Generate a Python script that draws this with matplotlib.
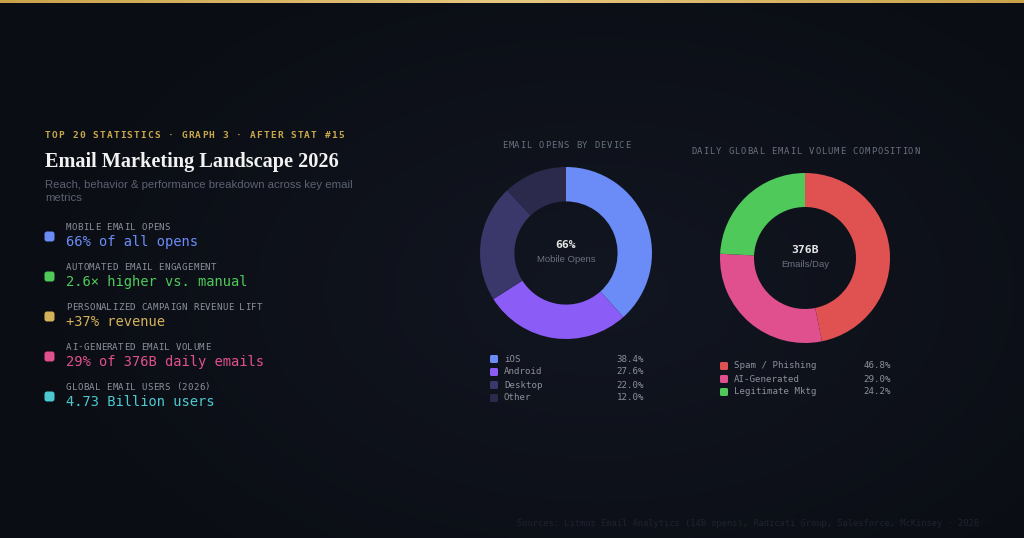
import numpy as np
import matplotlib.pyplot as plt
from matplotlib.patches import FancyBboxPatch

W, H = 1024, 538

# ---- data ----
device_labels = ['iOS', 'Android', 'Desktop', 'Other']
device_share = [38.4, 27.6, 22.0, 12.0]
device_colors = ['#6b8cf7', '#8b5cf6', '#3a376a', '#2b2a4c']

volume_labels = ['Spam / Phishing', 'AI-Generated', 'Legitimate Mktg']
volume_share = [46.8, 29.0, 24.2]
volume_colors = ['#e05252', '#e0508f', '#4ec95a']

stat_labels = ['MOBILE EMAIL OPENS', 'AUTOMATED EMAIL ENGAGEMENT',
               'PERSONALIZED CAMPAIGN REVENUE LIFT', 'AI-GENERATED EMAIL VOLUME',
               'GLOBAL EMAIL USERS (2026)']
stat_values = ['66% of all opens', '2.6× higher vs. manual', '+37% revenue',
               '29% of 376B daily emails', '4.73 Billion users']
stat_colors = ['#6b8cf7', '#4ec95a', '#d4b25a', '#e0508f', '#4cc9d0']

MONO = 'DejaVu Sans Mono'
SANS = 'Liberation Sans'
SERIF = 'Liberation Serif'


def spaced(ax, x, y, s, step, **kw):
    # letter-spaced text, one glyph at a time
    for i, ch in enumerate(s):
        ax.text(x + i * step, y, ch, ha='left', va='center', family=MONO, **kw)


fig = plt.figure(figsize=(W / 100, H / 100), dpi=100)
bg = fig.add_axes([0, 0, 1, 1])
bg.set_xlim(0, W)
bg.set_ylim(H, 0)
bg.axis('off')

# radial background glow
yy, xx = np.mgrid[0:H, 0:W]
d = np.sqrt(((xx - 600) / 620) ** 2 + ((yy - 290) / 380) ** 2)
t = np.clip(1 - d, 0, 1)
c0 = np.array([10, 13, 19]) / 255
c1 = np.array([18, 22, 33]) / 255
img = c0[None, None, :] + (c1 - c0)[None, None, :] * t[..., None]
bg.imshow(img, extent=[0, W, H, 0], aspect='auto', zorder=0)

# gold top bar
gx = np.linspace(0, 1, 256)
g = 1 - np.abs(gx - 0.5) * 2
gold0 = np.array([201, 162, 74]) / 255
gold1 = np.array([232, 200, 128]) / 255
bar = gold0[None, None, :] + (gold1 - gold0)[None, None, :] * g[None, :, None]
bg.imshow(bar, extent=[0, W, 3, 0], aspect='auto', zorder=1)

# ---- left panel ----
spaced(bg, 45, 136, 'TOP 20 STATISTICS · GRAPH 3 · AFTER STAT #15', 6.82,
       fontsize=6.8, color='#c9a84c', fontweight='bold')
bg.text(45, 162, 'Email Marketing Landscape 2026', family=SERIF, fontweight='bold',
        fontsize=14.6, color='#f2f2f2', ha='left', va='center')
bg.text(45, 185, 'Reach, behavior & performance breakdown across key email',
        family=SANS, fontsize=8.2, color='#5c6272', ha='left', va='center')
bg.text(45, 198, 'metrics', family=SANS, fontsize=8.2, color='#5c6272',
        ha='left', va='center')

for i, (lab, val, col) in enumerate(zip(stat_labels, stat_values, stat_colors)):
    y0 = 227 + 40 * i
    bg.add_patch(FancyBboxPatch((44.5, y0 + 4.5), 10, 10, boxstyle='round,pad=0,rounding_size=2.5',
                                facecolor=col, edgecolor='none', zorder=3))
    spaced(bg, 66, y0, lab, 5.78, fontsize=6.6, color='#8b909c')
    bg.text(66, y0 + 15, val, family=MONO, fontsize=9.9, color=col,
            ha='left', va='center')

# ---- donuts ----
def donut(cx, cy, r, vals, cols, big, small):
    ax = fig.add_axes([(cx - r) / W, 1 - (cy + r) / H, 2 * r / W, 2 * r / H])
    ax.pie(vals, colors=cols, startangle=90, counterclock=False, radius=1,
           wedgeprops=dict(width=0.4, linewidth=0))
    ax.set_xlim(-1, 1)
    ax.set_ylim(-1, 1)
    ax.axis('off')
    ax.text(0, 0.09, big, family=MONO, fontweight='bold', fontsize=8.2,
            color='#e6e6e6', ha='center', va='center')
    ax.text(0, -0.08, small, family=SANS, fontsize=6.8, color='#6b7080',
            ha='center', va='center')
    return ax


donut(566, 253, 86, device_share, device_colors, '66%', 'Mobile Opens')
donut(805, 258, 85, volume_share, volume_colors, '376B', 'Emails/Day')

spaced(bg, 502, 145, 'EMAIL OPENS BY DEVICE', 6.15, fontsize=6.4, color='#6b7080')
spaced(bg, 691, 151, 'DAILY GLOBAL EMAIL VOLUME COMPOSITION', 6.2, fontsize=6.4,
       color='#6b7080')

# legends
for i, (lab, v, col) in enumerate(zip(device_labels, device_share, device_colors)):
    y0 = 359 + 13 * i
    bg.add_patch(FancyBboxPatch((490, y0 - 4), 8, 8, boxstyle='round,pad=0,rounding_size=1.5',
                                facecolor=col, edgecolor='none', zorder=3))
    bg.text(504, y0, lab, family=MONO, fontsize=6.6, color='#8b909c', ha='left', va='center')
    bg.text(644, y0, f'{v:.1f}%', family=MONO, fontsize=6.6, color='#8b909c',
            ha='right', va='center')

for i, (lab, v, col) in enumerate(zip(volume_labels, volume_share, volume_colors)):
    y0 = 366 + 13 * i
    bg.add_patch(FancyBboxPatch((720, y0 - 4), 8, 8, boxstyle='round,pad=0,rounding_size=1.5',
                                facecolor=col, edgecolor='none', zorder=3))
    bg.text(734, y0, lab, family=MONO, fontsize=6.6, color='#8b909c', ha='left', va='center')
    bg.text(891, y0, f'{v:.1f}%', family=MONO, fontsize=6.6, color='#8b909c',
            ha='right', va='center')

bg.text(979, 523, 'Sources: Litmus Email Analytics (14B opens), Radicati Group, '
        'Salesforce, McKinsey · 2026', family=MONO, fontsize=6.3, color='#1f2330',
        ha='right', va='center')

fig.savefig('out.png', dpi=100, facecolor='#0b0e14')
